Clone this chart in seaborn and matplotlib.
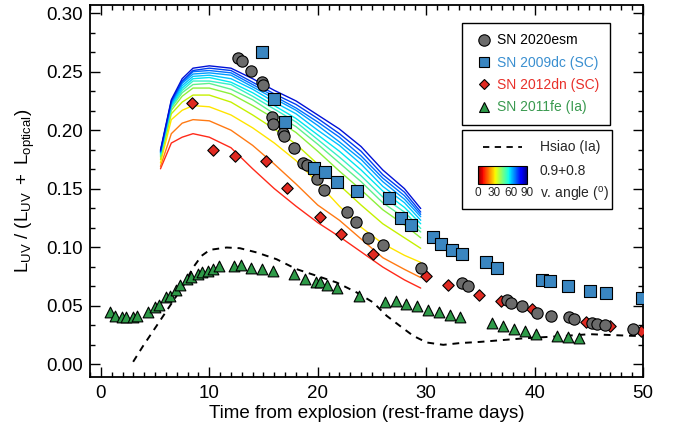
import numpy as np
import pandas as pd
import matplotlib
matplotlib.use("Agg")
import matplotlib as mpl
import matplotlib.pyplot as plt
import seaborn as sns
from matplotlib.lines import Line2D
from matplotlib.patches import Rectangle
from matplotlib.ticker import MultipleLocator

# ---------------- data ----------------
esm_t = [12.68, 13.05, 13.88, 14.85, 14.99, 15.77, 15.91, 16.82, 16.88, 17.80, 18.68, 19.00,
         19.90, 20.60, 22.69, 23.52, 24.66, 26.04, 29.52, 33.30, 33.90, 37.43, 37.80, 38.84,
         40.22, 41.54, 43.20, 43.66, 45.27, 45.73, 46.52, 49.10]
esm_f = [0.262, 0.259, 0.251, 0.2415, 0.239, 0.211, 0.205, 0.198, 0.195, 0.185, 0.172, 0.170,
         0.158, 0.149, 0.130, 0.1216, 0.108, 0.1017, 0.0826, 0.0697, 0.0671, 0.0547, 0.0521, 0.0493,
         0.0433, 0.041, 0.040, 0.0385, 0.035, 0.034, 0.0333, 0.0297]

dc_t = [14.88, 15.96, 16.97, 19.70, 20.71, 21.74, 23.63, 26.61, 27.65, 28.60, 30.63, 31.41,
        32.41, 33.35, 35.49, 36.50, 40.71, 41.42, 43.08, 45.14, 46.59, 49.95]
dc_f = [0.267, 0.2265, 0.2066, 0.1675, 0.1644, 0.1558, 0.1479, 0.1416, 0.125, 0.1188, 0.1083, 0.1024,
        0.0977, 0.0943, 0.0869, 0.0818, 0.0718, 0.0709, 0.0664, 0.0624, 0.0607, 0.0564]

dn_t = [8.37, 10.30, 12.33, 15.19, 17.19, 20.18, 22.14, 25.12, 29.98, 32.01, 34.90, 36.90,
        39.79, 44.74, 46.96, 49.80]
dn_f = [0.2233, 0.183, 0.178, 0.1733, 0.1504, 0.1256, 0.111, 0.094, 0.0756, 0.0673, 0.059, 0.0538,
        0.047, 0.0356, 0.0322, 0.0285]

fe_t = [0.89, 1.29, 1.96, 2.31, 2.92, 3.32, 4.31, 4.98, 5.35, 6.00, 6.37, 6.95, 7.32, 7.96, 8.27,
        8.92, 9.29, 9.90, 10.30, 10.91, 12.24, 12.94, 13.87, 14.85, 15.84, 17.83, 18.85, 19.80,
        20.20, 20.85, 21.82, 23.80, 26.23, 27.19, 28.16, 29.15, 30.17, 31.15, 32.17, 33.12, 36.10,
        37.11, 38.10, 39.11, 40.10, 42.07, 43.05, 44.10]
fe_f = [0.0442, 0.0408, 0.0399, 0.0404, 0.0404, 0.0413, 0.0447, 0.0485, 0.0504, 0.057, 0.0584,
        0.0635, 0.0678, 0.0726, 0.0741, 0.0769, 0.0789, 0.0795, 0.0812, 0.0835, 0.0835, 0.0844,
        0.0826, 0.0809, 0.0792, 0.0767, 0.0732, 0.0705, 0.070, 0.0673, 0.0647, 0.0581, 0.0532,
        0.0536, 0.0515, 0.0496, 0.0462, 0.0447, 0.0419, 0.0402, 0.0348, 0.0322, 0.0299, 0.0282,
        0.0256, 0.0242, 0.0228, 0.022]

hsiao_t = [2.98, 3.90, 5.14, 6.37, 7.59, 8.51, 9.29, 10.06, 11.60, 12.82, 14.36, 16.20, 18.05,
           19.90, 21.74, 23.59, 25.12, 26.36, 27.58, 28.81, 30.05, 31.58, 33.12, 34.96, 38.93,
           42.04, 45.11, 46.65, 49.08, 50.0]
hsiao_f = [0.002, 0.0156, 0.0327, 0.0498, 0.0669, 0.0826, 0.0926, 0.0977, 0.0997, 0.0991, 0.0955,
           0.0897, 0.0812, 0.0755, 0.0698, 0.0613, 0.0527, 0.0413, 0.0327, 0.0242, 0.0185, 0.0165,
           0.018, 0.019, 0.022, 0.0237, 0.0256, 0.025, 0.0242, 0.024]

# model curves (time grid and one array per viewing angle)
model_t = [5.5, 6.5, 7.5, 8.5, 10, 12, 14, 16, 18, 20, 22, 24, 26, 28, 29.5]
model_angles = [0, 7.5, 15, 22.5, 30, 37.5, 45, 52.5, 60, 67.5, 75, 82.5, 90]
m_000 = [0.167, 0.189, 0.194, 0.197, 0.194, 0.185, 0.167, 0.150, 0.135, 0.121, 0.109, 0.096, 0.083, 0.072, 0.065]
m_075 = [0.169, 0.197, 0.206, 0.209, 0.208, 0.200, 0.187, 0.171, 0.154, 0.136, 0.123, 0.107, 0.091, 0.081, 0.074]
m_150 = [0.172, 0.209, 0.217, 0.221, 0.220, 0.213, 0.202, 0.189, 0.174, 0.155, 0.135, 0.117, 0.103, 0.093, 0.087]
m_225 = [0.175, 0.214, 0.224, 0.230, 0.230, 0.224, 0.213, 0.201, 0.188, 0.171, 0.153, 0.136, 0.120, 0.108, 0.099]
m_300 = [0.177, 0.217, 0.229, 0.236, 0.236, 0.231, 0.221, 0.210, 0.198, 0.182, 0.165, 0.149, 0.132, 0.119, 0.108]
m_375 = [0.178, 0.219, 0.232, 0.239, 0.240, 0.235, 0.226, 0.214, 0.203, 0.188, 0.172, 0.156, 0.138, 0.125, 0.113]
m_450 = [0.179, 0.220, 0.234, 0.242, 0.242, 0.239, 0.229, 0.218, 0.207, 0.192, 0.177, 0.161, 0.143, 0.130, 0.116]
m_525 = [0.180, 0.221, 0.236, 0.244, 0.245, 0.241, 0.232, 0.221, 0.210, 0.196, 0.182, 0.166, 0.148, 0.134, 0.120]
m_600 = [0.181, 0.222, 0.238, 0.246, 0.247, 0.244, 0.235, 0.224, 0.214, 0.200, 0.187, 0.171, 0.152, 0.138, 0.123]
m_675 = [0.181, 0.223, 0.240, 0.248, 0.249, 0.247, 0.237, 0.227, 0.217, 0.204, 0.190, 0.175, 0.156, 0.141, 0.126]
m_750 = [0.182, 0.224, 0.241, 0.250, 0.251, 0.249, 0.239, 0.229, 0.219, 0.207, 0.194, 0.178, 0.159, 0.144, 0.128]
m_825 = [0.182, 0.225, 0.242, 0.251, 0.253, 0.251, 0.241, 0.231, 0.222, 0.210, 0.197, 0.182, 0.162, 0.147, 0.130]
m_900 = [0.183, 0.226, 0.244, 0.253, 0.255, 0.253, 0.244, 0.234, 0.225, 0.213, 0.201, 0.186, 0.166, 0.150, 0.133]
model_series = [m_000, m_075, m_150, m_225, m_300, m_375, m_450, m_525, m_600, m_675, m_750, m_825, m_900]

legend_labels = ["SN 2020esm", "SN 2009dc (SC)", "SN 2012dn (SC)", "SN 2011fe (Ia)"]

# ---------------- style ----------------
line_colors = ['#ff2a1a', '#ff7a14', '#ffe400', '#c6f000', '#8cf03c', '#5ef08c', '#36f0c8',
               '#00e6f0', '#00c4ff', '#009cff', '#0070ff', '#0040f0', '#0010d6']
c_esm, c_dc, c_dn, c_fe = '#6b6b6b', '#3a86c1', '#e02a22', '#2e9a48'
t_dc, t_dn, t_fe = '#3a8fd0', '#e8302a', '#3a9a50'

sns.set_theme(style="ticks")
plt.rcParams['font.family'] = ['Liberation Sans', 'DejaVu Sans']
plt.rcParams['mathtext.fontset'] = 'custom'
plt.rcParams['mathtext.rm'] = 'Liberation Sans'
plt.rcParams['mathtext.it'] = 'Liberation Sans'

fig = plt.figure(figsize=(6.78, 4.33), dpi=100)
ax = fig.add_axes([90/678, 1-377/433, 553/678, 372/433])

# model curves
mdf = pd.DataFrame({
    't': np.concatenate([model_t for _ in model_series]),
    'f': np.concatenate(model_series),
    'angle': np.repeat(model_angles, len(model_t)),
})
sns.lineplot(data=mdf, x='t', y='f', hue='angle', palette=line_colors, hue_order=model_angles,
             estimator=None, sort=False, linewidth=1.0, legend=False, ax=ax, zorder=2)

# Hsiao template
sns.lineplot(x=hsiao_t, y=hsiao_f, color='black', linewidth=1.4, ax=ax, legend=False,
             estimator=None, sort=False, zorder=3)
ax.lines[-1].set_dashes((3.5, 3.0))

kw = dict(edgecolor='black', linewidth=0.8, legend=False, ax=ax)
sns.scatterplot(x=fe_t, y=fe_f, marker='^', s=60, color=c_fe, zorder=4, **kw)
sns.scatterplot(x=dn_t, y=dn_f, marker='D', s=34, color=c_dn, zorder=5, **kw)
sns.scatterplot(x=esm_t, y=esm_f, marker='o', s=66, color=c_esm, zorder=6, **kw)
sns.scatterplot(x=dc_t, y=dc_f, marker='s', s=64, color=c_dc, zorder=7, **kw)

ax.set_xlim(-1, 50)
ax.set_ylim(-0.011, 0.307)
ax.xaxis.set_major_locator(MultipleLocator(10))
ax.xaxis.set_minor_locator(MultipleLocator(1))
ax.yaxis.set_major_locator(MultipleLocator(0.05))
ax.yaxis.set_minor_locator(MultipleLocator(0.05/3))
ax.yaxis.set_major_formatter(mpl.ticker.FormatStrFormatter('%.2f'))
ax.tick_params(which='both', direction='in', top=True, right=True, width=1.0, color='black',
               labelsize=13.5, labelcolor='black')
ax.tick_params(which='major', length=7)
ax.tick_params(which='minor', length=3.5)
ax.tick_params(axis='x', pad=6)
ax.tick_params(axis='y', pad=5)
for sp in ax.spines.values():
    sp.set_visible(True)
    sp.set_linewidth(1.3)
    sp.set_color('black')

ax.set_xlabel('Time from explosion (rest-frame days)', fontsize=13.5, labelpad=2, color='black')
ax.set_ylabel(r'$\mathregular{L_{UV}\ /\ (L_{UV}\ +\ L_{optical})}$', fontsize=13.5, labelpad=7,
              color='black')

# legend box 1
handles = [
    Line2D([], [], ls='', marker='o', ms=8.2, mfc=c_esm, mec='black', mew=0.8),
    Line2D([], [], ls='', marker='s', ms=7.8, mfc=c_dc, mec='black', mew=0.8),
    Line2D([], [], ls='', marker='D', ms=5.6, mfc=c_dn, mec='black', mew=0.8),
    Line2D([], [], ls='', marker='^', ms=7.8, mfc=c_fe, mec='black', mew=0.8),
]
leg = ax.legend(handles, legend_labels, loc='upper left',
                bbox_to_anchor=(462/678, 1-23/433), bbox_transform=fig.transFigure,
                borderaxespad=0, fontsize=10, frameon=True, fancybox=False,
                edgecolor='black', framealpha=1, handlelength=1.6, handletextpad=0.2,
                labelspacing=0.6, borderpad=0.75,
                labelcolor=['black', t_dc, t_dn, t_fe])
leg.get_frame().set_linewidth(1.0)

# legend box 2 (model key)
fig.patches.append(Rectangle((462/678, 1-209/433), 150/678, 79/433, transform=fig.transFigure,
                             facecolor='white', edgecolor='black', linewidth=1.0, zorder=10))
fig.lines.append(Line2D([483/678, 522/678], [1-147/433, 1-147/433], transform=fig.transFigure,
                        color='black', linewidth=1.3, dashes=(3.5, 3.0), zorder=11))
fig.text(540/678, 1-147/433, 'Hsiao (Ia)', fontsize=10, va='center', ha='left', zorder=11)
fig.text(540/678, 1-171/433, '0.9+0.8', fontsize=10, va='center', ha='left', zorder=11)
fig.text(540/678, 1-194/433, r'v. angle ($^{\mathregular{o}}$)', fontsize=10, va='center',
         ha='left', zorder=11)
cax = fig.add_axes([478/678, 1-184/433, 49/678, 18/433], zorder=12)
sm = mpl.cm.ScalarMappable(norm=mpl.colors.Normalize(0, 90), cmap='jet_r')
cb = fig.colorbar(sm, cax=cax, orientation='horizontal', ticks=[0, 30, 60, 90])
cb.outline.set_linewidth(0.8)
cb.outline.set_edgecolor('black')
cax.tick_params(length=0, labelsize=8.5, pad=2)

fig.savefig('out.png', dpi=100)
